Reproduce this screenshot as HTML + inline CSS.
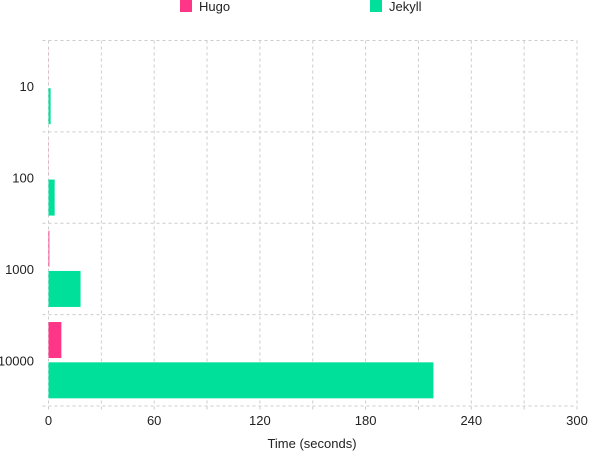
<!DOCTYPE html>
<html><head><meta charset="utf-8"><style>
html,body{margin:0;padding:0;background:#fff;}
svg{display:block;font-family:"Liberation Sans",sans-serif;}
</style></head><body>
<svg id="chart" width="600" height="451"></svg>
<script>
const categories = ["10","100","1000","10000"];
const hugoValues = [0.05, 0.08, 0.5, 7.3];
const jekyllValues = [1.2, 3.5, 18.2, 218.5];
const xTicks = [0,60,120,180,240,300];
const xGrid = [0,30,60,90,120,150,180,210,240,270,300];
const NS="http://www.w3.org/2000/svg";
const svg=document.getElementById('chart');
const L=48.5,R=577,T=40.5,B=406,xMax=300;
const x=v=>L+(R-L)*v/xMax;
const band=(B-T)/categories.length;
const y=i=>T+band*i;
function mk(t,a,p){const e=document.createElementNS(NS,t);for(const k in a)e.setAttribute(k,a[k]);(p||svg).appendChild(e);return e;}
const grid=mk('g',{});


xGrid.forEach(v=>{const l=mk('line',{x1:x(v),x2:x(v),y1:T,y2:B+6,stroke:'#ccc','stroke-dasharray':'3,3'},grid);

});
for(let i=0;i<=categories.length;i++){const l=mk('line',{x1:L-6,x2:R,y1:y(i),y2:y(i),stroke:'#ccc','stroke-dasharray':'3,3'},grid);

}
categories.forEach((c,i)=>{
 const t=mk('text',{x:34,y:y(i)+band/2+5,'text-anchor':'end','font-size':13,fill:'#222'});t.textContent=c;
 
 
 const h=mk('rect',{x:x(0),y:y(i)+7.4,width:Math.max(x(hugoValues[i])-x(0),0),height:36,fill:'#ff3688'});
 
 
 const j=mk('rect',{x:x(0),y:y(i)+47.7,width:Math.max(x(jekyllValues[i])-x(0),0),height:36,fill:'#00e09a'});
 
 
});
xTicks.forEach(v=>{const t=mk('text',{x:x(v),y:425,'text-anchor':'middle','font-size':13,fill:'#222'});t.textContent=v;

});
const at=mk('text',{x:312,y:448,'text-anchor':'middle','font-size':13,fill:'#222'});at.textContent='Time (seconds)';


[["Hugo","#ff3688",180],["Jekyll","#00e09a",370]].forEach(([n,c,lx])=>{
 const g=mk('g',{});
 
 
 mk('rect',{x:lx,y:0,width:12,height:12,fill:c},g);
 const t=mk('text',{x:lx+19,y:11,'font-size':13,fill:'#222'},g);t.textContent=n;
});
</script>
</body></html>
